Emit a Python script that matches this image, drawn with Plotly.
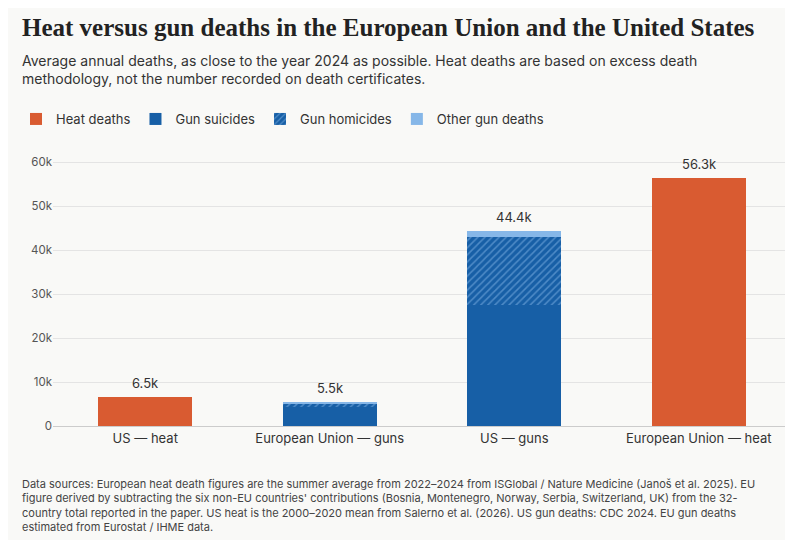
import plotly.graph_objects as go

categories = ["US — heat", "European Union — guns", "US — guns", "European Union — heat"]
heat = [6.5, 0, 0, 56.3]
gun_suicides = [0, 4.3, 27.5, 0]
gun_homicides = [0, 0.8, 15.6, 0]
other_gun = [0, 0.4, 1.3, 0]
totals = [6.5, 5.5, 44.4, 56.3]
total_labels = ["6.5k", "5.5k", "44.4k", "56.3k"]

BG = "#f9f9f7"
ORANGE = "#d95b31"
DARK = "#175fa6"
LIGHT = "#86b7e8"
TXT = "#333333"


def px_y(p):
    return (418 - p) / 266


def px_x(p):
    return (p - 45) / 738


fig = go.Figure()
w = 0.51
fig.add_trace(go.Bar(x=categories, y=heat, name="Heat deaths", marker_color=ORANGE, width=w))
fig.add_trace(go.Bar(x=categories, y=gun_suicides, name="Gun suicides", marker_color=DARK, width=w))
fig.add_trace(go.Bar(x=categories, y=gun_homicides, name="Gun homicides", width=w,
                     marker=dict(color=DARK, pattern=dict(shape="/", fgcolor=LIGHT, size=5, solidity=0.3))))
fig.add_trace(go.Bar(x=categories, y=other_gun, name="Other gun deaths", marker_color=LIGHT, width=w))
fig.update_traces(marker_line_width=0)

for c, t, lab in zip(categories, totals, total_labels):
    fig.add_annotation(x=c, y=t, text=lab, showarrow=False, yanchor="bottom", yshift=4,
                       font=dict(size=13, color=TXT))

fig.add_annotation(xref="paper", yref="paper", x=px_x(12), y=px_y(20), xanchor="left", yanchor="middle",
                   text="<b>Heat versus gun deaths in the European Union and the United States</b>",
                   showarrow=False, font=dict(family="Liberation Serif", size=25, color="#222222"))
fig.add_annotation(xref="paper", yref="paper", x=px_x(12), y=px_y(61), xanchor="left", yanchor="middle",
                   align="left", showarrow=False, font=dict(family="Inter", size=14, color=TXT),
                   text="Average annual deaths, as close to the year 2024 as possible. Heat deaths are based on excess death<br>methodology, not the number recorded on death certificates.")
fig.add_annotation(xref="paper", yref="paper", x=px_x(12), y=px_y(497), xanchor="left", yanchor="middle",
                   align="left", showarrow=False, font=dict(family="Inter", size=11, color="#444444"),
                   text="Data sources: European heat death figures are the summer average from 2022–2024 from ISGlobal / Nature Medicine (Janoš et al. 2025). EU<br>"
                        "figure derived by subtracting the six non-EU countries' contributions (Bosnia, Montenegro, Norway, Serbia, Switzerland, UK) from the 32-<br>"
                        "country total reported in the paper. US heat is the 2000–2020 mean from Salerno et al. (2026). US gun deaths: CDC 2024. EU gun deaths<br>"
                        "estimated from Eurostat / IHME data.")

fig.update_layout(
    barmode="stack", width=793, height=540, paper_bgcolor=BG, plot_bgcolor=BG,
    margin=dict(l=45, r=10, t=152, b=122, autoexpand=False),
    font=dict(family="Inter", color=TXT, size=13),
    bargap=0.49,
    legend=dict(orientation="h", x=px_x(8), y=px_y(111), xanchor="left", yanchor="middle",
                font=dict(size=13, color=TXT), traceorder="normal"),
    xaxis=dict(showgrid=False, showline=True, linecolor="#cccccc", ticks="", tickfont=dict(size=13, color=TXT)),
    yaxis=dict(range=[0, 60.5], tickvals=[0, 10, 20, 30, 40, 50, 60],
               ticktext=["0", "10k", "20k", "30k", "40k", "50k", "60k"],
               gridcolor="#e4e4e4", zeroline=False, tickfont=dict(size=11.5, color="#555555")),
)
fig.write_html("out.html")
